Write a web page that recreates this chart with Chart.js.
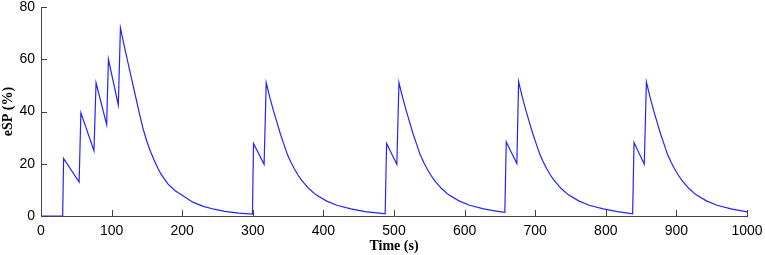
<!DOCTYPE html>
<html>
<head>
<meta charset="utf-8">
<script src="https://cdn.jsdelivr.net/npm/chart.js@4"></script>
<style>
  html, body { margin: 0; padding: 0; background: #fff; }
  #wrap { width: 765px; height: 255px; }
</style>
</head>
<body>
<div id="wrap"><canvas id="espChart" width="765" height="255"></canvas></div>
<script>
// bout 1: four short stimuli then a long one, decay to baseline
var bout1Time = [0, 30.7, 32, 54, 56.5, 75, 78, 93, 95.5, 109.5, 112.5, 116, 120, 125, 130, 135, 140, 145, 150, 155, 160, 165, 170, 180, 190, 200, 215, 230, 245, 260, 280, 299.5];
var bout1Esp  = [0, 0, 22, 13, 39.5, 25, 51, 35, 60, 42.5, 72, 67.5, 62.5, 56.5, 50.5, 44.5, 38.5, 33, 28.5, 24.8, 21.5, 18.6, 16, 12.2, 9.7, 7.9, 5.3, 3.7, 2.6, 1.8, 1.1, 0.7];

var bout2Time = [301, 316, 319, 324, 329, 334, 339, 344, 349, 354, 359, 364, 369, 379, 389, 404, 419, 439, 459, 479, 487.5];
var bout2Esp  = [27.8, 19.8, 51, 45.5, 40.5, 36, 31.5, 27.5, 23.5, 20.6, 18, 15.7, 13.7, 10.6, 8.2, 5.8, 4.1, 2.7, 1.7, 1.1, 0.8];

var bout3Time = [489.5, 504, 507, 512, 517, 522, 527, 532, 537, 542, 547, 552, 557, 567, 577, 592, 607, 627, 647, 657];
var bout3Esp  = [27.8, 19.8, 51.1, 45.6, 40.6, 36, 31.5, 27.5, 23.5, 20.6, 18, 15.7, 13.7, 10.6, 8.2, 5.8, 4.1, 2.7, 1.8, 1.4];

var bout4Time = [659, 674, 676.5, 681.5, 686.5, 691.5, 696.5, 701.5, 706.5, 711.5, 716.5, 721.5, 726.5, 736.5, 746.5, 761.5, 776.5, 796.5, 816.5, 838];
var bout4Esp  = [28.3, 20.1, 51.4, 45.8, 40.7, 36.1, 31.6, 27.6, 23.6, 20.7, 18, 15.7, 13.7, 10.6, 8.2, 5.8, 4.1, 2.7, 1.7, 0.8];

var bout5Time = [840, 854.5, 857.5, 862.5, 867.5, 872.5, 877.5, 882.5, 887.5, 892.5, 897.5, 902.5, 907.5, 917.5, 927.5, 942.5, 957.5, 977.5, 1000];
var bout5Esp  = [28.1, 19.8, 51.3, 45.7, 40.6, 36, 31.5, 27.5, 23.5, 20.6, 18, 15.7, 13.7, 10.6, 8.2, 5.8, 4.1, 2.7, 1.6];

var xTicks = [0, 100, 200, 300, 400, 500, 600, 700, 800, 900, 1000];
var yTicks = [0, 20, 40, 60, 80];

function toPoints(ts, vs) {
    return ts.map(function (t, i) { return { x: t, y: vs[i] }; });
}

var points = [].concat(
    toPoints(bout1Time, bout1Esp),
    toPoints(bout2Time, bout2Esp),
    toPoints(bout3Time, bout3Esp),
    toPoints(bout4Time, bout4Esp),
    toPoints(bout5Time, bout5Esp)
);

var axisColor = '#444';

// matlab style ticks pointing into the plot
var inwardTicks = {
    id: 'inwardTicks',
    afterDatasetsDraw: function (chart) {
        var ctx = chart.ctx;
        var xs = chart.scales.x, ys = chart.scales.y;
        var area = chart.chartArea;
        ctx.save();
        ctx.strokeStyle = axisColor;
        ctx.lineWidth = 1;
        ctx.beginPath();
        xTicks.forEach(function (v) {
            var px = Math.round(xs.getPixelForValue(v)) + 0.5;
            ctx.moveTo(px, area.bottom);
            ctx.lineTo(px, area.bottom - 6);
        });
        yTicks.forEach(function (v) {
            var py = Math.round(ys.getPixelForValue(v)) + 0.5;
            ctx.moveTo(area.left, py);
            ctx.lineTo(area.left + 6, py);
        });
        ctx.stroke();
        ctx.restore();
    }
};

new Chart(document.getElementById('espChart').getContext('2d'), {
    type: 'line',
    data: {
        datasets: [{
            label: 'eSP',
            data: points,
            borderColor: 'rgb(35,35,255)',
            borderWidth: 1.2,
            pointRadius: 0,
            fill: false,
            tension: 0
        }]
    },
    options: {
        responsive: false,
        animation: false,
        layout: { padding: { top: 7, right: 18, left: 0, bottom: 0 } },
        plugins: { legend: { display: false }, tooltip: { enabled: false } },
        scales: {
            x: {
                type: 'linear',
                min: 0,
                max: 1000,
                afterBuildTicks: function (s) { s.ticks = xTicks.map(function (v) { return { value: v }; }); },
                afterFit: function (s) { s.height = 39; s.paddingLeft = 0; s.paddingRight = 0; },
                grid: { display: true, drawOnChartArea: false, drawTicks: false },
                border: { color: axisColor, width: 1 },
                ticks: {
                    color: '#000',
                    padding: 7,
                    maxRotation: 0,
                    autoSkip: false,
                    callback: function (v) { return String(v); },
                    font: { family: 'Liberation Sans', size: 14 }
                },
                title: {
                    display: true,
                    text: 'Time (s)',
                    color: '#000',
                    padding: { top: 0, bottom: 0 },
                    font: { family: 'Liberation Serif', size: 14, weight: 'bold' }
                }
            },
            y: {
                min: 0,
                max: 80,
                afterBuildTicks: function (s) { s.ticks = yTicks.map(function (v) { return { value: v }; }); },
                afterFit: function (s) { s.width = 41; s.paddingTop = 0; s.paddingBottom = 0; },
                grid: { display: true, drawOnChartArea: false, drawTicks: false },
                border: { color: axisColor, width: 1 },
                ticks: {
                    color: '#000',
                    padding: 6,
                    callback: function (v) { return String(v); },
                    font: { family: 'Liberation Sans', size: 14 }
                },
                title: {
                    display: true,
                    text: 'eSP (%)',
                    color: '#000',
                    padding: { top: 0, bottom: 0 },
                    font: { family: 'Liberation Serif', size: 14, weight: 'bold' }
                }
            }
        }
    },
    plugins: [inwardTicks]
});
</script>
</body>
</html>
